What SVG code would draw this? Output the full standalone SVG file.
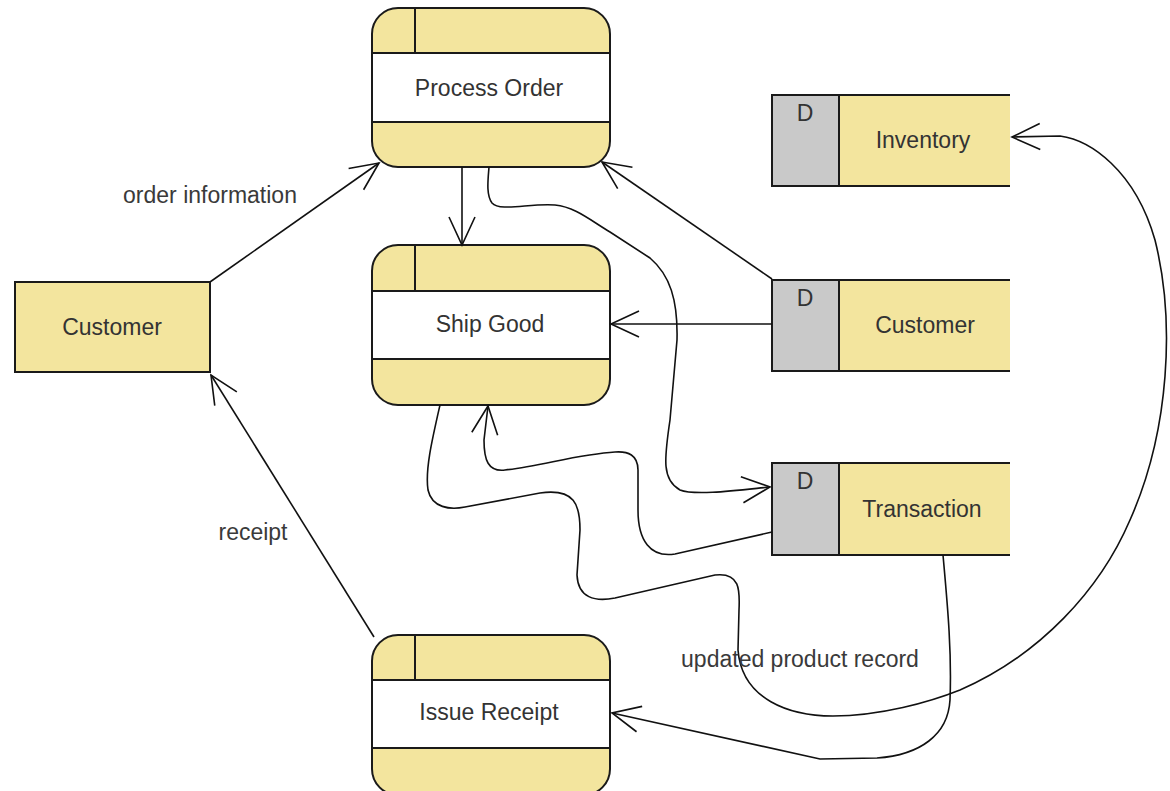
<svg xmlns="http://www.w3.org/2000/svg" width="1170" height="791" viewBox="0 0 1170 791">
<defs>
<style>
.y{fill:#F3E59E}
.g{fill:#C9C9C9}
.w{fill:#FFFFFF}
.ln{stroke:#1a1a1a;stroke-width:2;fill:none}
.c{stroke:#111;stroke-width:1.6;fill:none;marker-end:url(#arr)}
.t{font-family:"Liberation Sans",Arial,sans-serif;font-size:23px;fill:#333;text-anchor:middle}
.lb{font-family:"Liberation Sans",Arial,sans-serif;font-size:23px;fill:#3a3a3a;text-anchor:middle}
</style>
<marker id="arr" markerUnits="userSpaceOnUse" markerWidth="40" markerHeight="40" refX="0" refY="0" viewBox="-32 -20 40 40" orient="auto" overflow="visible">
<path d="M-28,-13 L0,0 L-28,13" fill="none" stroke="#111" stroke-width="1.6"/>
</marker>
</defs>
<rect width="1170" height="791" fill="#FFFFFF"/>

<g id="process-order">
<rect class="y" x="372" y="8" width="238" height="159" rx="26"/>
<rect class="w" x="372" y="53" width="238" height="69"/>
<line class="ln" x1="372" y1="53" x2="610" y2="53"/>
<line class="ln" x1="372" y1="122" x2="610" y2="122"/>
<line class="ln" x1="415" y1="8" x2="415" y2="53"/>
<rect class="ln" x="372" y="8" width="238" height="159" rx="26"/>
<text class="t" x="489" y="96">Process Order</text>
</g>

<g id="ship-good">
<rect class="y" x="372" y="245" width="238" height="160" rx="26"/>
<rect class="w" x="372" y="291" width="238" height="68"/>
<line class="ln" x1="372" y1="291" x2="610" y2="291"/>
<line class="ln" x1="372" y1="359" x2="610" y2="359"/>
<line class="ln" x1="415" y1="245" x2="415" y2="291"/>
<rect class="ln" x="372" y="245" width="238" height="160" rx="26"/>
<text class="t" x="490" y="332">Ship Good</text>
</g>

<g id="issue-receipt">
<rect class="y" x="372" y="635" width="238" height="160" rx="26"/>
<rect class="w" x="372" y="680" width="238" height="68"/>
<line class="ln" x1="372" y1="680" x2="610" y2="680"/>
<line class="ln" x1="372" y1="748" x2="610" y2="748"/>
<line class="ln" x1="415" y1="635" x2="415" y2="680"/>
<rect class="ln" x="372" y="635" width="238" height="160" rx="26"/>
<text class="t" x="489" y="720">Issue Receipt</text>
</g>

<g id="customer-entity">
<rect class="y" x="15" y="282" width="195" height="90"/>
<rect class="ln" x="15" y="282" width="195" height="90"/>
<text class="t" x="112" y="335">Customer</text>
</g>

<g id="inventory-store">
<rect class="g" x="772" y="95" width="67" height="91"/>
<rect class="y" x="839" y="95" width="171" height="91"/>
<path class="ln" d="M1010,95 L772,95 L772,186 L1010,186 M839,95 L839,186"/>
<text class="t" x="805" y="121">D</text>
<text class="t" x="923" y="148">Inventory</text>
</g>

<g id="customer-store">
<rect class="g" x="772" y="280" width="67" height="91"/>
<rect class="y" x="839" y="280" width="171" height="91"/>
<path class="ln" d="M1010,280 L772,280 L772,371 L1010,371 M839,280 L839,371"/>
<text class="t" x="805" y="306">D</text>
<text class="t" x="925" y="333">Customer</text>
</g>

<g id="transaction-store">
<rect class="g" x="772" y="463" width="67" height="92"/>
<rect class="y" x="839" y="463" width="171" height="92"/>
<path class="ln" d="M1010,463 L772,463 L772,555 L1010,555 M839,463 L839,555"/>
<text class="t" x="805" y="489">D</text>
<text class="t" x="922" y="517">Transaction</text>
</g>

<g id="connectors">
<path class="c" d="M210,282 L379,163"/>
<path class="c" d="M374,637 L211,375"/>
<path class="c" d="M462,167 L462,245"/>
<path class="c" d="M772,279 L602,162"/>
<path class="c" d="M772,324 L611,324"/>
<path class="c" d="M489,167 C488,180 486,195 492,203 C500,212 530,203 555,205 C575,207 590,220 610,232 L650,258 C670,275 678,300 677,340 L670,420 C664,460 662,480 680,490 C695,496 740,490 770,487"/>
<path class="c" d="M772,532 L675,554 C650,558 638,540 638,510 L638,470 C638,455 628,451 615,452 C580,454 540,466 505,470 C488,472 484,460 484,440 L488,406"/>
<path class="c" d="M440,405 C432,440 425,470 428,490 C432,508 450,510 465,507 L540,493 C575,488 580,505 580,530 L577,575 C578,598 595,602 615,598 L715,575 C740,572 740,590 739,610 L738,650 C742,700 790,716 833,716 C880,716 930,702 960,690 C1040,655 1100,590 1130,520 C1170,430 1175,320 1155,240 C1135,170 1090,140 1060,136 L1012,137"/>
<path class="c" d="M943,555 C947,600 952,650 950,700 C948,735 920,755 877,758 L820,759 L612,713"/>
<text class="lb" x="210" y="203">order information</text>
<text class="lb" x="253" y="540">receipt</text>
<text class="lb" x="800" y="667">updated product record</text>
</g>
</svg>
